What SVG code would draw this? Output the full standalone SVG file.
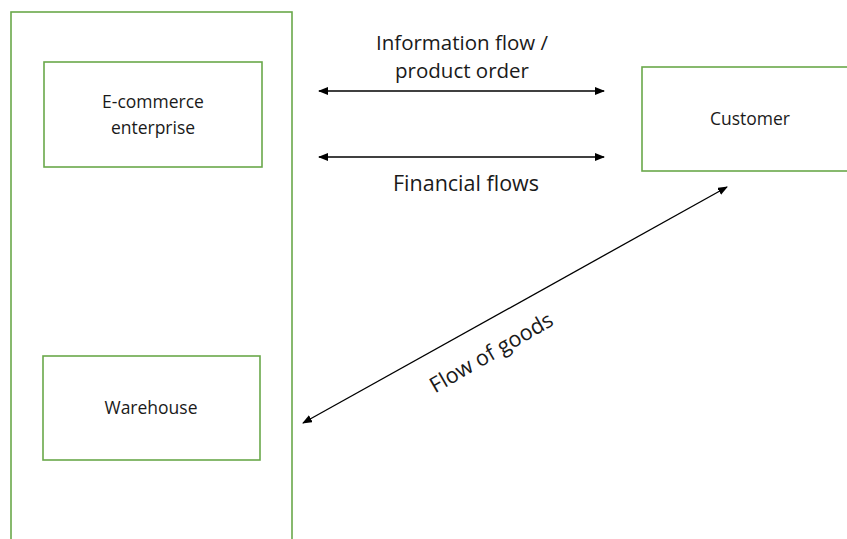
<svg xmlns="http://www.w3.org/2000/svg" width="847" height="539" viewBox="0 0 847 539">
  <style>
    .box { fill: none; stroke: #6aa84a; stroke-width: 1.6; }
    .lbl { font-family: "Open Sans", "Liberation Sans", sans-serif; font-size: 17.5px; fill: #1a1a1a; text-anchor: middle; }
    .flow { font-family: "Open Sans", "Liberation Sans", sans-serif; font-size: 21.5px; fill: #1a1a1a; text-anchor: middle; }
    .tight { font-size: 20.5px; }
    .conn { stroke: #000; stroke-width: 1.3; fill: none; marker-start: url(#head); marker-end: url(#head); }
  </style>
  <defs>
    <marker id="head" viewBox="0 0 10 8" refX="9" refY="4" markerWidth="10" markerHeight="8" markerUnits="userSpaceOnUse" orient="auto-start-reverse">
      <path d="M0,0 L10,4 L0,8 z" fill="#000"/>
    </marker>
  </defs>
  <rect width="847" height="539" fill="#fff"/>

  <g id="company">
    <rect class="box" x="11" y="12" width="281" height="560"/>
  </g>
  <g id="ecommerce">
    <rect class="box" x="44" y="62" width="218" height="105"/>
    <text class="lbl" x="153" y="108">E-commerce</text>
    <text class="lbl" x="153" y="134">enterprise</text>
  </g>
  <g id="warehouse">
    <rect class="box" x="43" y="356" width="217" height="104"/>
    <text class="lbl" x="151" y="414">Warehouse</text>
  </g>
  <g id="customer">
    <rect class="box" x="642" y="67" width="220" height="104"/>
    <text class="lbl" x="750" y="125">Customer</text>
  </g>

  <g id="connectors">
    <line class="conn" x1="319" y1="91" x2="604" y2="91"/>
    <line class="conn" x1="319" y1="157" x2="604" y2="157"/>
    <line class="conn" x1="303" y1="423" x2="727" y2="187"/>
    <text class="flow tight" x="462" y="50">Information flow /</text>
    <text class="flow tight" x="462" y="78">product order</text>
    <text class="flow" x="466" y="191">Financial flows</text>
    <text class="flow" transform="translate(495 359) rotate(-30)" x="0" y="0">Flow of goods</text>
  </g>
</svg>
